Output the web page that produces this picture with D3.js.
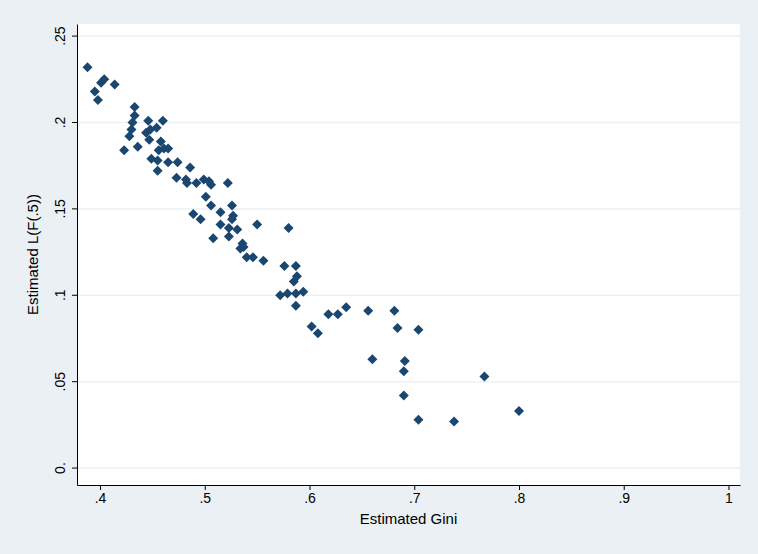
<!DOCTYPE html><html><head><meta charset="utf-8"><script src="https://d3js.org/d3.v7.min.js"></script>
<style>body{margin:0;background:#eaf0f3}</style></head><body><svg id="c" width="758" height="554"></svg>
<script>
const gini=[.388,.401,.404,.414,.395,.398,.433,.433,.431,.446,.460,.430,.428,.444,.448,.454,.447,.458,.436,.423,.456,.461,.465,.449,.455,.455,.465,.474,.486,.473,.482,.483,.492,.499,.504,.506,.522,.501,.506,.526,.515,.489,.496,.527,.526,.515,.550,.523,.531,.580,.523,.508,.536,.537,.534,.540,.546,.556,.576,.587,.588,.585,.572,.579,.587,.594,.587,.618,.627,.602,.608,.635,.656,.681,.684,.704,.660,.691,.690,.690,.704,.738,.767,.800];
const lf5=[.232,.223,.225,.222,.218,.213,.209,.204,.200,.201,.201,.196,.192,.194,.196,.197,.190,.189,.186,.184,.184,.185,.185,.179,.178,.172,.177,.177,.174,.168,.167,.165,.165,.167,.166,.164,.165,.157,.152,.152,.148,.147,.144,.146,.144,.141,.141,.139,.138,.139,.134,.133,.130,.128,.127,.122,.122,.120,.117,.117,.111,.108,.100,.101,.101,.102,.094,.089,.089,.082,.078,.093,.091,.091,.081,.080,.063,.062,.056,.042,.028,.027,.053,.033];
const xTicks=[.4,.5,.6,.7,.8,.9,1], xLabels=[".4",".5",".6",".7",".8",".9","1"];
const yTicks=[0,.05,.1,.15,.2,.25], yLabels=["0.",".05",".1",".15",".2",".25"];
const svg=d3.select("#c");
const L=77,R=740,T=24,B=485;
const x=d3.scaleLinear().domain([.378,1.011]).range([L,R]);
const y=d3.scaleLinear().domain([-.0098,.257]).range([B,T]);
svg.append("rect").attr("x",L).attr("y",T).attr("width",R-L).attr("height",B-T).attr("fill","#fff");
svg.selectAll(".g").data(yTicks).join("line").attr("x1",L).attr("x2",R).attr("y1",d=>y(d)).attr("y2",d=>y(d)).attr("stroke","#eaf2f3").attr("stroke-width",1.5);
const xa=svg.append("g").attr("transform",`translate(0,${B})`).call(d3.axisBottom(x).tickValues(xTicks).tickFormat((d,i)=>xLabels[i]).tickSize(5).tickSizeOuter(0));
const ya=svg.append("g").attr("transform",`translate(${L},0)`).call(d3.axisLeft(y).tickValues(yTicks).tickFormat((d,i)=>yLabels[i]).tickSize(5).tickSizeOuter(0));
[xa,ya].forEach(a=>{a.selectAll("path,line").attr("stroke","#000");a.selectAll("text").attr("font-family","Arial, Liberation Sans").attr("font-size",14).attr("fill","#000");});
ya.selectAll(".tick").attr("transform",null);
ya.selectAll(".tick line").attr("y1",d=>y(d)).attr("y2",d=>y(d));
ya.selectAll(".tick text").attr("x",null).attr("dy",null).attr("y",0).attr("text-anchor","middle").attr("transform",d=>`translate(-12,${y(d)}) rotate(-90)`);
svg.selectAll(".p").data(gini).join("path").attr("d",d3.symbol(d3.symbolSquare,50)()).attr("transform",(d,i)=>`translate(${x(d)},${y(lf5[i])}) rotate(45)`).attr("fill","#1a476f");
svg.append("text").attr("x",(L+R)/2).attr("y",524).attr("text-anchor","middle").attr("font-family","Arial, Liberation Sans").attr("font-size",15).text("Estimated Gini");
svg.append("text").attr("transform",`translate(38,${(T+B)/2}) rotate(-90)`).attr("text-anchor","middle").attr("font-family","Arial, Liberation Sans").attr("font-size",15).text("Estimated L(F(.5))");
</script></body></html>
